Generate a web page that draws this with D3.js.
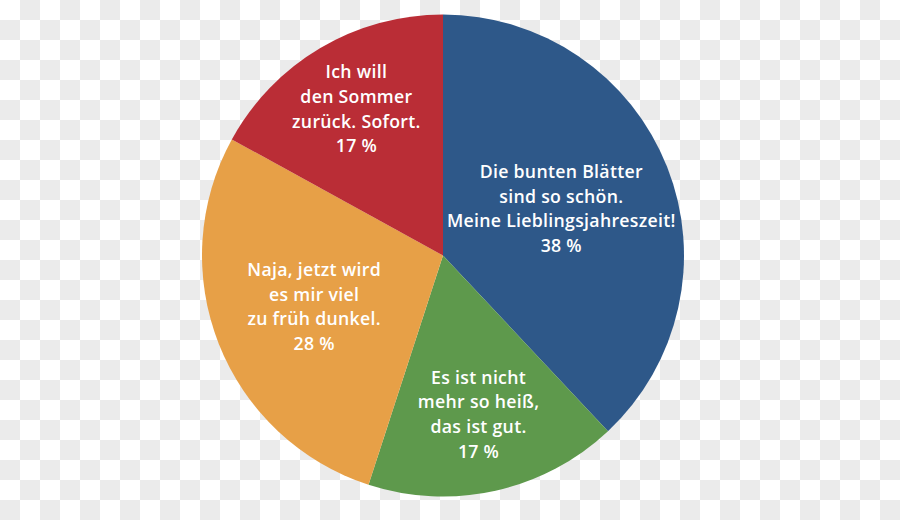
<!DOCTYPE html>
<html>
<head>
<meta charset="utf-8">
<script src="https://cdn.jsdelivr.net/npm/d3@7"></script>
<style>
  html, body { margin: 0; padding: 0; background: #fff; }
  svg { display: block; }
</style>
</head>
<body>
<svg id="chart" width="900" height="520"></svg>
<script>
// ---- data ----
const categories = [
  "Die bunten Blätter|sind so schön.|Meine Lieblingsjahreszeit!",
  "Es ist nicht|mehr so heiß,|das ist gut.",
  "Naja, jetzt wird|es mir viel|zu früh dunkel.",
  "Ich will|den Sommer|zurück. Sofort."
];
const values = [38, 17, 28, 17];
const colors = ["#2e5889", "#5e994c", "#e7a047", "#ba2d36"];
// label distance from centre, as a fraction of the radius
const labelRadiusFactor = [0.528, 0.676, 0.575, 0.706];

const W = 900, H = 520;
const cx = 443, cy = 255.5, R = 241;
const svg = d3.select("#chart");

// checkerboard background (transparency pattern)
const defs = svg.append("defs");
const pat = defs.append("pattern").attr("id", "checker")
  .attr("width", 40).attr("height", 40).attr("patternUnits", "userSpaceOnUse");
pat.append("rect").attr("width", 40).attr("height", 40).attr("fill", "#ffffff");
pat.append("rect").attr("x", 20).attr("y", 0).attr("width", 20).attr("height", 20).attr("fill", "#ebebeb");
pat.append("rect").attr("x", 0).attr("y", 20).attr("width", 20).attr("height", 20).attr("fill", "#ebebeb");
svg.append("rect").attr("width", W).attr("height", H).attr("fill", "url(#checker)");

const pie = d3.pie().sort(null).value(d => d.value);
const data = values.map((v, i) => ({ value: v, label: categories[i], color: colors[i], lf: labelRadiusFactor[i] }));
const arcs = pie(data);
const arc = d3.arc().innerRadius(0).outerRadius(R);

const g = svg.append("g").attr("transform", `translate(${cx},${cy})`);
g.selectAll("path").data(arcs).join("path")
  .attr("d", arc)
  .attr("fill", d => d.data.color);

const lineH = 24.6, fs = 17.7;
arcs.forEach(a => {
  const lr = R * a.data.lf;
  const la = d3.arc().innerRadius(lr).outerRadius(lr);
  const [x, y] = la.centroid(a);
  const lines = a.data.label.split("|").concat([a.data.value + " %"]);
  const n = lines.length;
  const t = g.append("text")
    .attr("text-anchor", "middle")
    .attr("font-family", "'Open Sans', sans-serif")
    .attr("font-weight", 600)
    .attr("font-size", fs)
    .attr("letter-spacing", 0.3)
    .attr("fill", "#ffffff");
  lines.forEach((ln, i) => {
    t.append("tspan")
      .attr("x", x)
      .attr("y", y + (i - (n - 1) / 2) * lineH + 6.3)
      .text(ln);
  });
});
</script>
</body>
</html>
